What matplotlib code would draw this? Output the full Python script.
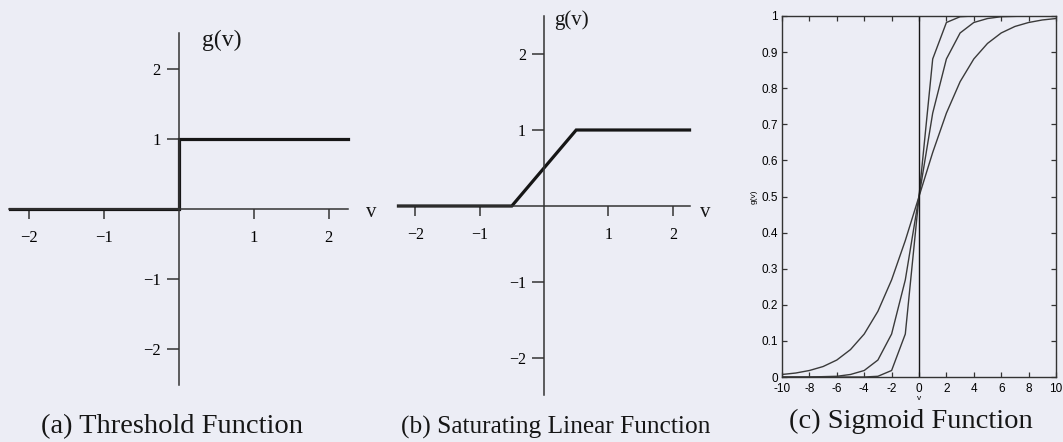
import matplotlib
matplotlib.use("Agg")
import matplotlib.pyplot as plt

# ---- data ----
thr_v = [-2.25, 0.0, 0.0, 2.25]
thr_g = [0.0, 0.0, 1.0, 1.0]

sat_v = [-2.26, -0.5, 0.5, 2.26]
sat_g = [0.0, 0.0, 1.0, 1.0]

sig_v = [-10, -9, -8, -7, -6, -5, -4, -3, -2, -1, 0, 1, 2, 3, 4, 5, 6, 7, 8, 9, 10]
sig_gentle = [0.007, 0.011, 0.018, 0.029, 0.047, 0.076, 0.119, 0.182, 0.269, 0.378, 0.5,
              0.622, 0.731, 0.818, 0.881, 0.924, 0.953, 0.971, 0.982, 0.989, 0.993]
sig_medium = [0.0, 0.0, 0.0, 0.001, 0.002, 0.007, 0.018, 0.047, 0.119, 0.269, 0.5,
              0.731, 0.881, 0.953, 0.982, 0.993, 0.998, 0.999, 1.0, 1.0, 1.0]
sig_steep = [0.0, 0.0, 0.0, 0.0, 0.0, 0.0, 0.0, 0.002, 0.018, 0.119, 0.5,
             0.881, 0.982, 0.998, 1.0, 1.0, 1.0, 1.0, 1.0, 1.0, 1.0]

cross_ticks = [-2, -1, 1, 2]
cross_labels = ["\u22122", "\u22121", "1", "2"]
sig_xticks = [-10, -8, -6, -4, -2, 0, 2, 4, 6, 8, 10]
sig_yticks = [0, 0.1, 0.2, 0.3, 0.4, 0.5, 0.6, 0.7, 0.8, 0.9, 1.0]
sig_ylabels = ["0", "0.1", "0.2", "0.3", "0.4", "0.5", "0.6", "0.7", "0.8", "0.9", "1"]

titles = ["(a) Threshold Function", "(b) Saturating Linear Function", "(c) Sigmoid Function"]

BG = "#ECEDF5"
INK = "#161616"
SERIF = ["Liberation Serif", "DejaVu Serif"]
NARROW = ["Liberation Sans Narrow", "Liberation Sans", "DejaVu Sans"]

W, H = 1063, 442
fig = plt.figure(figsize=(W / 100, H / 100), dpi=100, facecolor=BG)


def px_axes(left, top, right, bottom):
    return fig.add_axes([left / W, 1 - bottom / H, (right - left) / W, (bottom - top) / H])


def cross_axes(ax, xlim, ylim, xb, yb, size):
    ax.set_facecolor("none")
    ax.set_xlim(*xlim)
    ax.set_ylim(*ylim)
    for s in ("top", "right"):
        ax.spines[s].set_visible(False)
    ax.spines["left"].set_position(("data", 0))
    ax.spines["bottom"].set_position(("data", 0))
    ax.spines["left"].set_bounds(*yb)
    ax.spines["bottom"].set_bounds(*xb)
    for s in ("left", "bottom"):
        ax.spines[s].set_color("#333333")
        ax.spines[s].set_linewidth(1.1)
    ax.set_xticks(cross_ticks)
    ax.set_xticklabels(cross_labels, family=SERIF, fontsize=size)
    ax.set_yticks(cross_ticks)
    ax.set_yticklabels(cross_labels, family=SERIF, fontsize=size)
    ax.tick_params(axis="x", direction="out", length=7, width=1.1, color="#333333", pad=8)
    ax.tick_params(axis="y", direction="out", length=9, width=1.1, color="#333333", pad=4)


# (a) threshold
ax1 = px_axes(3, 30.5, 355, 387.5)
cross_axes(ax1, (-2.35, 2.35), (-2.55, 2.55), (-2.27, 2.25), (-2.52, 2.52), 12)
ax1.plot(thr_v, thr_g, color=INK, lw=2.3, solid_joinstyle="miter", clip_on=False)
ax1.text(0.57, 2.41, "g(v)", family=SERIF, fontsize=17, ha="center", va="center", color=INK)

# (b) saturating linear
ax2 = px_axes(383, 8.4, 705, 403.6)
cross_axes(ax2, (-2.5, 2.5), (-2.6, 2.6), (-2.26, 2.26), (-2.49, 2.5), 11.5)
ax2.plot(sat_v, sat_g, color=INK, lw=2.3, solid_joinstyle="miter", clip_on=False)
ax2.text(0.43, 2.44, "g(v)", family=SERIF, fontsize=15, ha="center", va="center", color=INK)
ax2.text(-2.68, -0.08, "v", family=SERIF, fontsize=15, ha="center", va="center", color=INK, clip_on=False)
ax2.text(2.51, -0.08, "v", family=SERIF, fontsize=15, ha="center", va="center", color=INK, clip_on=False)

# (c) sigmoid
ax3 = px_axes(782, 16, 1056, 377)
ax3.set_facecolor("none")
for y in (sig_gentle, sig_medium, sig_steep):
    ax3.plot(sig_v, y, color="#3a3a3a", lw=1.0)
ax3.axvline(0, color=INK, lw=1.0)
ax3.set_xlim(-10, 10)
ax3.set_ylim(0, 1)
ax3.set_xticks(sig_xticks)
ax3.set_xticklabels([str(t) for t in sig_xticks], family=NARROW, fontsize=8.5)
ax3.set_yticks(sig_yticks)
ax3.set_yticklabels(sig_ylabels, family=NARROW, fontsize=8.5)
ax3.tick_params(direction="in", length=3.5, width=0.9, top=True, right=True, color="#333333")
ax3.tick_params(axis="x", pad=4)
ax3.tick_params(axis="y", pad=3)
for s in ax3.spines.values():
    s.set_color("#333333")
    s.set_linewidth(1.0)
ax3.set_xlabel("v", family=NARROW, fontsize=6, labelpad=0)
ax3.set_ylabel("g(v)", family=NARROW, fontsize=6, labelpad=3)

# captions
captions = ((172, 427, 20.5, titles[0]), (556, 427, 18.3, titles[1]), (911, 421, 20.5, titles[2]))
for xc, yc, fs, t in captions:
    fig.text(xc / W, 1 - yc / H, t, family=SERIF, fontsize=fs, ha="center", va="center", color=INK)

fig.savefig("out.png", dpi=100, facecolor=BG)
